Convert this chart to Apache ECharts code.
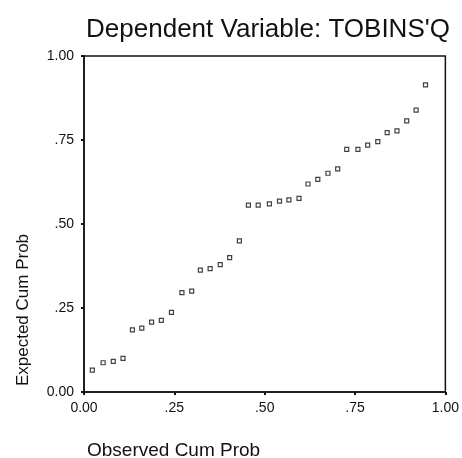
<!DOCTYPE html>
<html><head><meta charset="utf-8">
<script src="https://cdn.jsdelivr.net/npm/echarts@6/dist/echarts.min.js"></script>
<style>html,body{margin:0;padding:0;background:#fff}#c{width:462px;height:458px}</style>
</head><body><div id="c"></div>
<script>
var observed = [0.023,0.053,0.081,0.108,0.134,0.160,0.187,0.214,0.242,0.271,0.298,0.322,0.349,0.377,0.403,0.430,0.455,0.482,0.513,0.541,0.567,0.595,0.620,0.647,0.675,0.702,0.727,0.758,0.785,0.813,0.839,0.866,0.893,0.919,0.945];
var expected = [0.065,0.087,0.091,0.100,0.185,0.190,0.208,0.213,0.237,0.296,0.300,0.363,0.367,0.379,0.400,0.450,0.556,0.556,0.560,0.568,0.572,0.576,0.619,0.633,0.651,0.664,0.722,0.722,0.735,0.745,0.772,0.777,0.807,0.839,0.914];
var tickLabels = {0:'0.00',0.25:'.25',0.5:'.50',0.75:'.75',1:'1.00'};
var titleText = "Dependent Variable: TOBINS'Q";
var xName = 'Observed Cum Prob';
var yName = 'Expected Cum Prob';

var pts = observed.map(function(x,i){return [x, expected[i]];});
var font = 'Liberation Sans, Arial, sans-serif';
var chart = echarts.init(document.getElementById('c'));
function fmt(v){ return tickLabels[v] !== undefined ? tickLabels[v] : ''; }
chart.setOption({
  animation:false,
  backgroundColor:'#fff',
  title:{text:titleText,left:263,textAlign:'center',top:12,
    textStyle:{fontFamily:font,fontSize:26,fontWeight:'normal',color:'#111'}},
  grid:{left:84,right:15,top:56,bottom:66,show:true,borderColor:'#111',borderWidth:1.5},
  xAxis:{type:'value',min:0,max:1,interval:0.25,
    axisLine:{show:true,lineStyle:{color:'#111',width:1.5}},
    axisTick:{show:true,length:3,lineStyle:{color:'#111',width:2}},
    splitLine:{show:false},
    axisLabel:{formatter:fmt,color:'#111',fontFamily:font,fontSize:14,margin:9}},
  yAxis:{type:'value',min:0,max:1,interval:0.25,
    axisLine:{show:true,lineStyle:{color:'#111',width:1.5}},
    axisTick:{show:true,length:3,lineStyle:{color:'#111',width:2}},
    splitLine:{show:false},
    axisLabel:{formatter:fmt,color:'#111',fontFamily:font,fontSize:14,margin:10}},
  graphic:[
    {type:'text',left:87,top:441,style:{text:xName,fill:'#111',font:'19px '+font}},
    {type:'text',x:32,y:310,rotation:Math.PI/2,style:{text:yName,fill:'#111',font:'17px '+font,textAlign:'center',textVerticalAlign:'bottom'}}
  ],
  series:[{type:'scatter',data:pts,symbol:'rect',symbolSize:4,
    itemStyle:{color:'#fff',borderColor:'#111',borderWidth:1.2}}]
});
</script></body></html>
